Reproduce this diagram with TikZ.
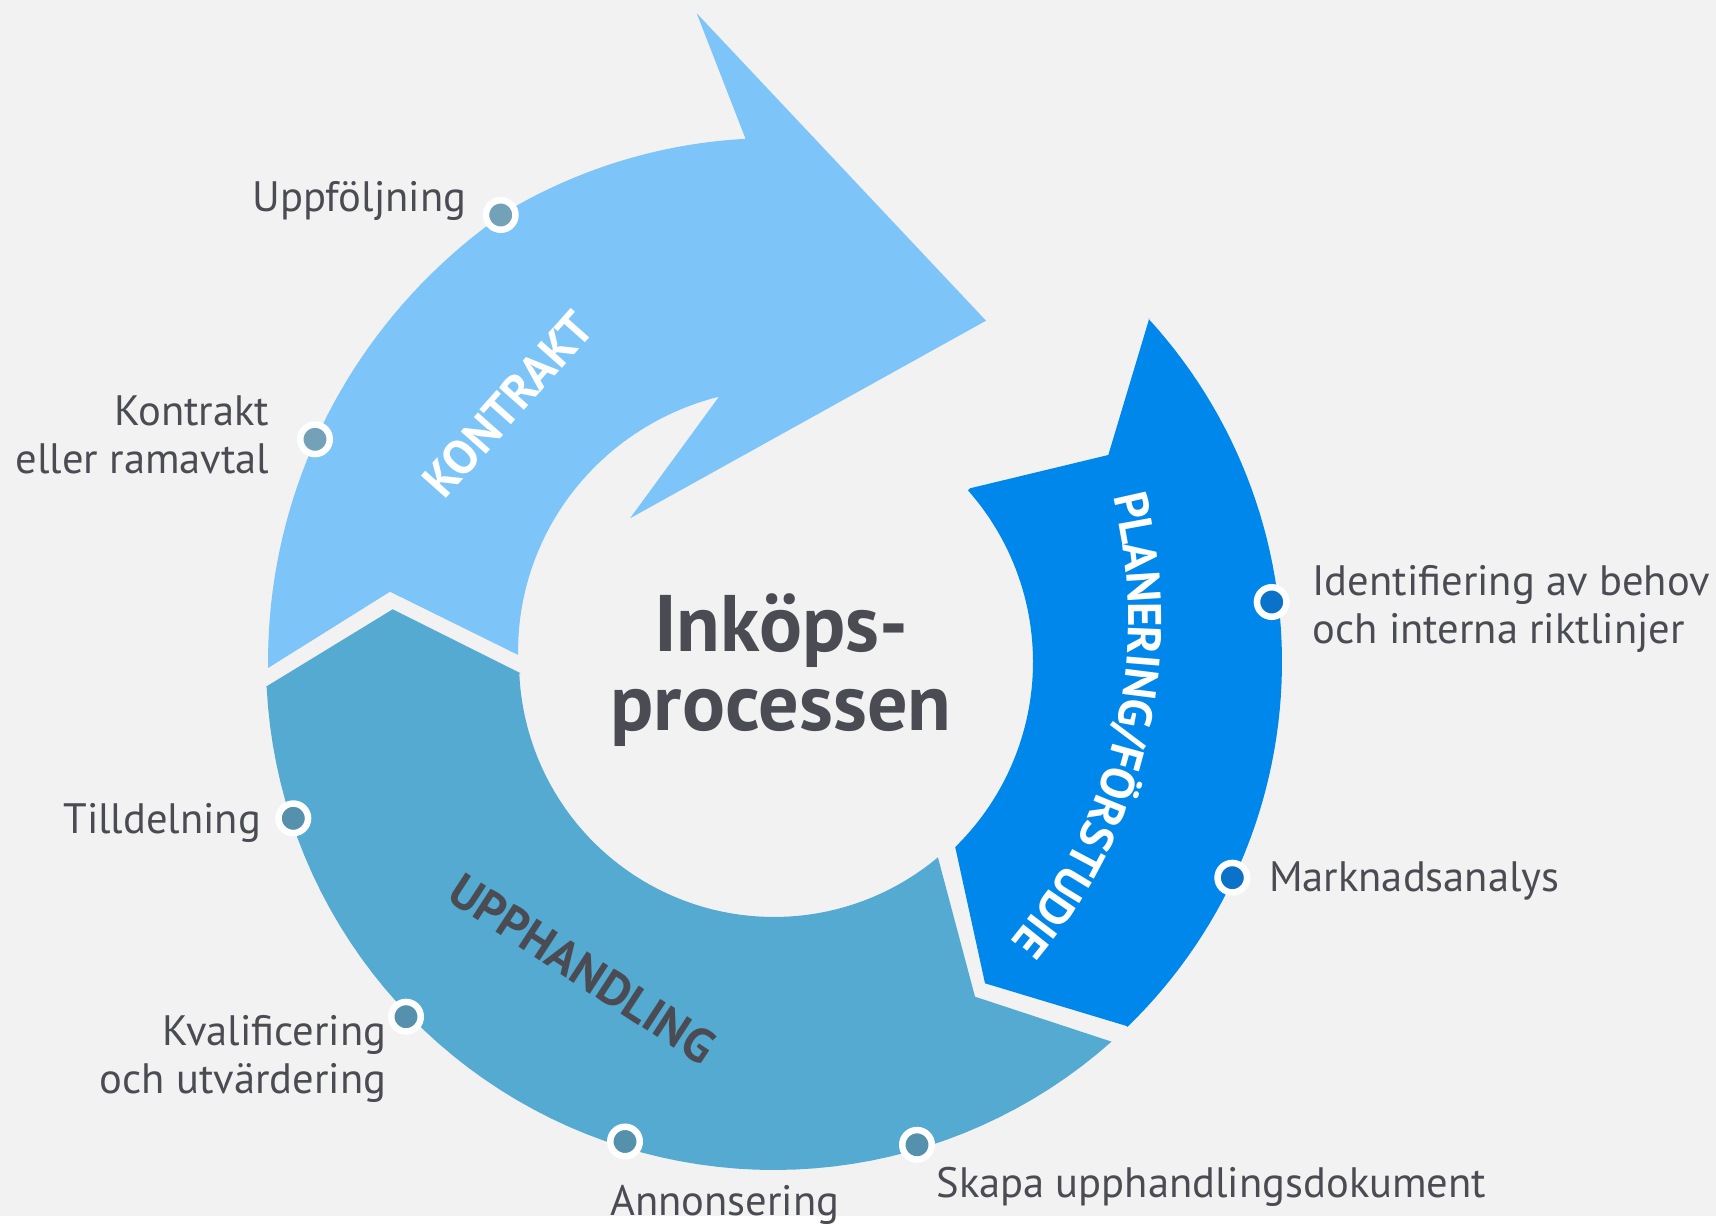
\documentclass[tikz,border=0pt]{standalone}
\usepackage{fontspec}
\setmainfont{PT Sans}
\usetikzlibrary{decorations.text}
\definecolor{bg}{HTML}{F2F2F2}
\definecolor{kontr}{HTML}{7DC4F8}
\definecolor{upph}{HTML}{54AAD0}
\definecolor{plan}{HTML}{0087EB}
\definecolor{txt}{HTML}{4B4C53}
\definecolor{dotk}{HTML}{72A1B8}
\definecolor{dotu}{HTML}{5590AD}
\definecolor{dotp}{HTML}{0B72C9}
\begin{document}
\begin{tikzpicture}[x=0.01cm,y=-0.01cm,
  declare function={rk(\t)=506+18*min(1,(\t-179.3)/60.7)^2; ri(\t)=256+15*(\t-181.6)/76.7;},
  lbl/.style={font=\fontsize{12.1}{13.64}\selectfont, text=txt, inner sep=0pt},
  dot/.style={circle, draw=white, line width=1.85pt, minimum size=0.295cm, inner sep=0pt},
  seg/.style={font=\bfseries\fontsize{13.6}{16}\selectfont, inner sep=0pt}]
\useasboundingbox (0,0) rectangle (1716,1225);
\fill[white] (0,0) rectangle (1716,1225);
\fill[bg] (0,0) rectangle (1716,1216);

% KONTRAKT
\fill[kontr] (268,668) -- (390,591.7) -- (518.3,655)
  -- plot[domain=181.6:258.3, samples=40] ({774+ri(\x)*cos(\x)},{662+ri(\x)*sin(\x)})
  -- (630,518.3) -- (986,320.7) -- (696.7,13.3) -- (746,140)
  -- plot[domain=266.9:179.3, samples=60] ({774+rk(\x)*cos(\x)},{662+rk(\x)*sin(\x)})
  -- cycle;

% UPPHANDLING
\fill[upph] (266,686.7) -- (392.7,609.3) -- (520.7,673.3)
  -- plot[domain=177.4:50, samples=60] ({774+255*cos(\x)},{662+255*sin(\x)})
  -- (975,996.7) -- (1111.7,1041.7)
  -- plot[domain=48.35:177.2, samples=60] ({774+508*cos(\x)},{662+508*sin(\x)})
  -- cycle;

% PLANERING
\fill[plan] (1149.3,318.3) -- (1108.3,455) -- (970,488.3)
  -- plot[domain=-41.5:45.6, samples=60] ({774+259*cos(\x)},{662+259*sin(\x)})
  -- (985,983.3) -- (1126.7,1026)
  -- plot[domain=45.9:-42.5, samples=60] ({774+508*cos(\x)},{662+508*sin(\x)})
  -- cycle;

% dots
\node[dot, fill=dotk] (d1) at (500.7,215) {};
\node[dot, fill=dotk] (d2) at (315,439.3) {};
\node[dot, fill=dotp] (d3) at (1271.7,602) {};
\node[dot, fill=dotp] (d4) at (1232.3,877.7) {};
\node[dot, fill=dotu] (d5) at (293.3,818.3) {};
\node[dot, fill=dotu] (d6) at (406,1016.7) {};
\node[dot, fill=dotu] (d7) at (625,1141.5) {};
\node[dot, fill=dotu] (d8) at (917,1144.8) {};

% labels (base anchor of a two-line node = baseline of its last line)
\node[lbl, anchor=base east] (t1) at (467,211.7) {Uppföljning};
\node[lbl, align=right, anchor=base east] (t2) at (270,473.3) {Kontrakt\\eller ramavtal};
\node[lbl, align=left, anchor=base west] (t3) at (1311.7,643.3) {Identifiering av behov\\och interna riktlinjer};
\node[lbl, anchor=base west] (t4) at (1268.3,891.7) {Marknadsanalys};
\node[lbl, anchor=base east] (t5) at (261.7,833.3) {Tilldelning};
\node[lbl, align=right, anchor=base east] (t6) at (387,1093.3) {Kvalificering\\och utvärdering};
\node[lbl, anchor=base west] (t7) at (609.6,1215) {Annonsering};
\node[lbl, anchor=base west] (t8) at (935.7,1197) {Skapa upphandlingsdokument};

% title
\node[font=\bfseries\fontsize{22.8}{22.3}\selectfont, text=txt, align=center, inner sep=0pt, anchor=base] (title) at (781,730) {Inköps-\\processen};

% segment names
\node[seg, text=white, rotate=48.4] (k) at (508,404) {KONTRAKT};
\node[seg, text=txt, rotate=-33.1] (u) at (582.7,968.5) {UPPHANDLING};
\path[decorate, decoration={text along path, text color=white,
  text={|\bfseries\fontsize{13.4}{15}\selectfont|PLANERING/FÖRSTUDIE},
  text align=center, raise=-4.7pt}]
  plot[domain=-24:50, samples=90] ({633+512*cos(\x)},{620+512*sin(\x)});
\end{tikzpicture}
\end{document}
